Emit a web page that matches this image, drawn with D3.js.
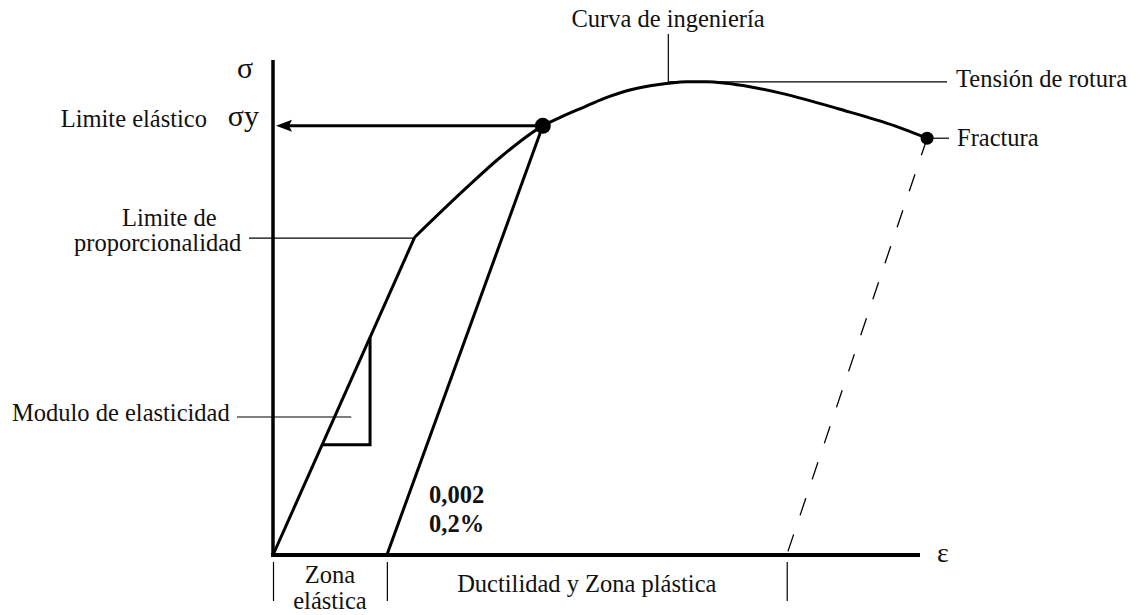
<!DOCTYPE html>
<html>
<head>
<meta charset="utf-8">
<script src="https://cdn.jsdelivr.net/npm/d3@7"></script>
<style>
  html, body { margin: 0; padding: 0; background: #fff; }
  svg { display: block; }
  text { font-family: "Liberation Serif", "Times New Roman", serif; fill: #111; }
</style>
</head>
<body>
<svg id="chart" width="1143" height="615"></svg>
<script>
// Schematic engineering stress–strain curve (arbitrary units: axes run 0–100)

// Elastic branch: origin to the limit of proportionality
const elasticStrain = [0, 21.9];
const elasticStress = [0, 64.2];

// Plastic branch: limit of proportionality → yield → ultimate → fracture
const plasticStrain = [21.9, 30.0, 35.1, 41.7, 44.4, 47.9, 51.3, 54.7, 58.3, 61.1, 64.0, 67.0, 70.0, 73.7, 78.8, 87.5, 96.1, 101.1];
const plasticStress = [64.2, 74.3, 80.3, 86.7, 88.4, 90.4, 92.3, 93.8, 94.8, 95.3, 95.6, 95.6, 95.3, 94.6, 93.2, 90.1, 86.7, 84.2];

// 0.2 % offset line (start on the strain axis, end at the yield point)
const offsetStrain = [17.6, 41.7];
const offsetStress = [0, 86.7];

// Elastic recovery after fracture (dashed)
const recoveryStrain = [101.1, 79.4];
const recoveryStress = [84.2, 0];

// Key points
const yieldPoint = { strain: 41.7, stress: 86.7 };
const ultimatePoint = { strain: 61.1, stress: 95.6 };
const fracturePoint = { strain: 101.1, stress: 84.2 };

// Slope triangle on the elastic branch (strain span)
const slopeStrain = [7.6, 15.0];

// Zone boundaries below the strain axis
const zoneBounds = [0, 17.6, 79.4];
const zoneLabels = [["Zona", "elástica"], ["Ductilidad y Zona plástica"]];

const svg = d3.select("#chart");
const x = d3.scaleLinear().domain([0, 100]).range([273, 920]);
const y = d3.scaleLinear().domain([0, 100]).range([555, 60]);

const zip = (a, b) => a.map((v, i) => [v, b[i]]);
const line = d3.line().x(d => x(d[0])).y(d => y(d[1]));
const smooth = d3.line().x(d => x(d[0])).y(d => y(d[1])).curve(d3.curveMonotoneX);

const FS = 24.5;

// Axes (plain lines, no ticks)
svg.append("line")
  .attr("x1", x(0)).attr("x2", x(0))
  .attr("y1", y(0) + 2).attr("y2", y(100))
  .attr("stroke", "#000").attr("stroke-width", 3.5);
svg.append("line")
  .attr("x1", x(0) - 2).attr("x2", x(100))
  .attr("y1", y(0)).attr("y2", y(0))
  .attr("stroke", "#000").attr("stroke-width", 4);

svg.append("text").attr("x", x(100) + 17).attr("y", y(0) + 7)
  .attr("font-size", 28).text("ε");
svg.append("text").attr("x", x(0) - 28).attr("y", y(100) + 18)
  .attr("font-size", 30).attr("text-anchor", "middle").text("σ");

// Zone separators and labels under the strain axis
svg.selectAll("line.zone").data(zoneBounds).join("line")
  .attr("class", "zone")
  .attr("x1", d => x(d) + 0.5).attr("x2", d => x(d) + 0.5)
  .attr("y1", y(0) + 7).attr("y2", y(0) + 46)
  .attr("stroke", "#000").attr("stroke-width", 1.2);

const zMid = (x(zoneBounds[0]) + x(zoneBounds[1])) / 2;
svg.append("text").attr("x", zMid).attr("y", y(0) + 28)
  .attr("font-size", FS).attr("text-anchor", "middle").text(zoneLabels[0][0]);
svg.append("text").attr("x", zMid).attr("y", y(0) + 54)
  .attr("font-size", FS).attr("text-anchor", "middle").text(zoneLabels[0][1]);
svg.append("text").attr("x", (x(zoneBounds[1]) + x(zoneBounds[2])) / 2).attr("y", y(0) + 37)
  .attr("font-size", FS).attr("text-anchor", "middle").text(zoneLabels[1][0]);

// Elastic branch
svg.append("path").datum(zip(elasticStrain, elasticStress))
  .attr("d", line).attr("fill", "none").attr("stroke", "#000").attr("stroke-width", 3);

// Plastic branch
svg.append("path").datum(zip(plasticStrain, plasticStress))
  .attr("d", smooth).attr("fill", "none").attr("stroke", "#000").attr("stroke-width", 3)
  .attr("stroke-linejoin", "round");

// Offset line
svg.append("path").datum(zip(offsetStrain, offsetStress))
  .attr("d", line).attr("fill", "none").attr("stroke", "#000").attr("stroke-width", 3);

// Recovery after fracture
svg.append("path").datum(zip(recoveryStrain, recoveryStress))
  .attr("d", line).attr("fill", "none").attr("stroke", "#000").attr("stroke-width", 1.3)
  .attr("stroke-dasharray", "18,20");

// Slope triangle for the modulus of elasticity
const E = elasticStress[1] / elasticStrain[1];
const tri = [
  [slopeStrain[0], E * slopeStrain[0]],
  [slopeStrain[1], E * slopeStrain[0]],
  [slopeStrain[1], E * slopeStrain[1]]
];
svg.append("path").datum(tri)
  .attr("d", line).attr("fill", "none").attr("stroke", "#000").attr("stroke-width", 3)
  .attr("stroke-linejoin", "miter");

// Yield arrow to the stress axis
const arrowY = y(yieldPoint.stress);
svg.append("line")
  .attr("x1", x(yieldPoint.strain)).attr("x2", x(0) + 16)
  .attr("y1", arrowY).attr("y2", arrowY)
  .attr("stroke", "#000").attr("stroke-width", 3);
svg.append("path")
  .attr("d", `M${x(0) + 3},${arrowY} L${x(0) + 19},${arrowY - 6} L${x(0) + 16},${arrowY} L${x(0) + 19},${arrowY + 6} Z`)
  .attr("fill", "#000");

// Points
svg.append("circle").attr("cx", x(yieldPoint.strain)).attr("cy", y(yieldPoint.stress))
  .attr("r", 8).attr("fill", "#000");
svg.append("circle").attr("cx", x(fracturePoint.strain)).attr("cy", y(fracturePoint.stress))
  .attr("r", 6.5).attr("fill", "#000");

// Annotation leaders
const thin = sel => sel.attr("stroke", "#000").attr("stroke-width", 1.2);
const px = x(elasticStrain[1]), py = y(elasticStress[1]);
thin(svg.append("line").attr("x1", 249).attr("x2", px).attr("y1", py + 1).attr("y2", py + 1));
thin(svg.append("line").attr("x1", 237).attr("x2", x(12.1)).attr("y1", 417).attr("y2", 417));
const ux = x(ultimatePoint.strain), uy = y(ultimatePoint.stress);
thin(svg.append("line").attr("x1", ux).attr("x2", ux).attr("y1", 34).attr("y2", uy));
thin(svg.append("line").attr("x1", ux).attr("x2", 947).attr("y1", uy).attr("y2", uy));
const fx = x(fracturePoint.strain), fy = y(fracturePoint.stress);
thin(svg.append("line").attr("x1", fx).attr("x2", 949).attr("y1", fy).attr("y2", fy));

// Labels
const label = (tx, ty, s, opts = {}) => svg.append("text")
  .attr("x", tx).attr("y", ty)
  .attr("font-size", opts.size || FS)
  .attr("font-weight", opts.bold ? "bold" : null)
  .attr("text-anchor", opts.anchor || "start")
  .text(s);

label(668, 27, "Curva de ingeniería", { anchor: "middle" });
label(956, 87, "Tensión de rotura");
label(957, 146, "Fractura");
label(207, 127, "Limite elástico", { anchor: "end" });
label(259, 126, "σy", { anchor: "end", size: 30 });
label(122, 226, "Limite de");
label(74, 251, "proporcionalidad");
label(12, 421, "Modulo de elasticidad");
label(429, 503, "0,002", { bold: true });
label(429, 532, "0,2%", { bold: true });
</script>
</body>
</html>
